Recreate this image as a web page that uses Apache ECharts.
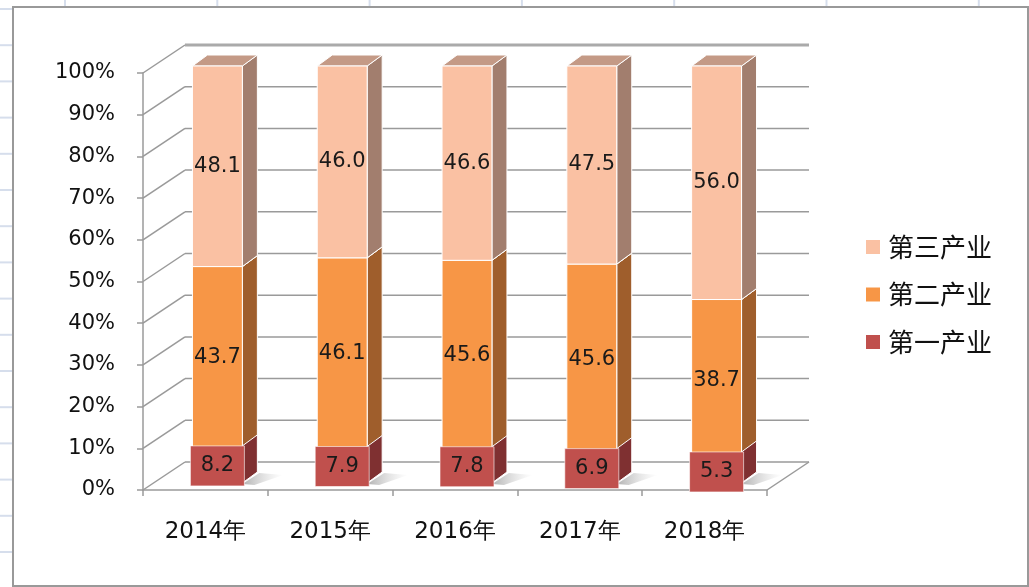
<!DOCTYPE html>
<html>
<head>
<meta charset="utf-8">
<style>
  html, body { margin: 0; padding: 0; background: #fff; }
  #chart { width: 1029px; height: 587px; }
</style>
<script src="https://cdn.jsdelivr.net/npm/echarts@6/dist/echarts.min.js"></script>
</head>
<body>
<div id="chart"></div>
<script>
// 数据
const years = ['2014年', '2015年', '2016年', '2017年', '2018年'];
const primary = [8.2, 7.9, 7.8, 6.9, 5.3];      // 第一产业
const secondary = [43.7, 46.1, 45.6, 45.6, 38.7]; // 第二产业
const tertiary = [48.1, 46.0, 46.6, 47.5, 56.0];  // 第三产业
const yTicks = [0, 10, 20, 30, 40, 50, 60, 70, 80, 90, 100];

// 3D 偏移
const DX = 42, DY = 28;   // 墙体深度
const BX = 12, BY = 7;    // 柱子相对前平面的位移
const BDX = 15, BDY = 11; // 柱子厚度
const GRID_COLOR = '#9a9a9a';
const LABEL_FONT = '21px "DejaVu Sans"';

function stackData(vals, bases) {
  return vals.map((v, i) => [i, bases ? bases[i] : 0, v]);
}
const base2 = primary.slice();
const base3 = primary.map((v, i) => v + secondary[i]);

// boxed: 第一产业的数据标签带红色底框（Excel 样式）
function barItem(front, side, top, boxed) {
  return function (params, api) {
    const i = api.value(0);
    const lo = api.value(1);
    const v = api.value(2);
    const c = api.coord([i, lo]);
    const t = api.coord([i, lo + v]);
    const w = api.size([1, 0])[0] * 0.4;
    const x0 = c[0] - w / 2 + BX, x1 = x0 + w;
    const yb = c[1] - BY, yt = t[1] - BY;
    const cx = (x0 + x1) / 2, cy = (yb + yt) / 2;
    const children = [];
    if (boxed) {
      const boxTop = Math.min(yt, cy - 20);
      children.push({ type: 'polygon',
        shape: { points: [[x1, yb + 1], [x1 + BDX + 2, yb - BDY + 1], [x1 + BDX + 26, yb - BDY + 3], [x1 + 12, yb + 2]] },
        style: { fill: new echarts.graphic.LinearGradient(0, 0, 1, 0, [
          { offset: 0, color: 'rgba(150,150,150,0.75)' }, { offset: 1, color: 'rgba(200,200,200,0)' }]) } });
      children.push({ type: 'polygon', shape: { points: [[x1, yb], [x1 + BDX, yb - BDY], [x1 + BDX, boxTop - BDY], [x1, boxTop]] },
        style: { fill: side, stroke: '#fff', lineWidth: 1 } });
      children.push({ type: 'rect', shape: { x: x0, y: yt, width: w, height: yb - yt },
        style: { fill: front } });
      children.push({ type: 'rect', shape: { x: cx - 27, y: cy - 20, width: 54, height: 40 },
        style: { fill: front, stroke: 'rgba(255,255,255,0.6)', lineWidth: 1 } });
    } else {
      children.push({ type: 'polygon', shape: { points: [[x1, yb], [x1 + BDX, yb - BDY], [x1 + BDX, yt - BDY], [x1, yt]] },
        style: { fill: side, stroke: '#fff', lineWidth: 1 } });
      children.push({ type: 'polygon', shape: { points: [[x0, yt], [x1, yt], [x1 + BDX, yt - BDY], [x0 + BDX, yt - BDY]] },
        style: { fill: top, stroke: '#fff', lineWidth: 1 } });
      children.push({ type: 'rect', shape: { x: x0, y: yt, width: w, height: yb - yt },
        style: { fill: front, stroke: '#fff', lineWidth: 1 } });
    }
    children.push({ type: 'text', style: { text: v.toFixed(1), x: cx, y: cy,
      align: 'center', verticalAlign: 'middle', font: LABEL_FONT, fill: '#1a1a1a' } });
    return { type: 'group', children: children };
  };
}

// 墙、地板、网格线
function frameItem(params, api) {
  const cs = params.coordSys;
  const left = cs.x, right = cs.x + cs.width;
  const children = [];
  yTicks.forEach(function (t) {
    const y = api.coord([0, t])[1];
    children.push({ type: 'line', shape: { x1: left, y1: y, x2: left + DX, y2: y - DY },
      style: { stroke: GRID_COLOR, lineWidth: 1.5 } });
    children.push({ type: 'line', shape: { x1: left + DX, y1: y - DY, x2: right + DX, y2: y - DY },
      style: { stroke: t === 100 ? '#aaa' : GRID_COLOR, lineWidth: t === 100 ? 3 : 1.5 } });
  });
  const yb = api.coord([0, 0])[1];
  children.push({ type: 'line', shape: { x1: right, y1: yb, x2: right + DX, y2: yb - DY },
    style: { stroke: GRID_COLOR, lineWidth: 1.5 } });
  return { type: 'group', children: children };
}

// Excel 单元格网格（背景）
const bgLines = [];
for (let x = 65; x < 1029; x += 152.3) {
  bgLines.push({ type: 'line', shape: { x1: x, y1: 0, x2: x, y2: 6 }, style: { stroke: '#d6deec', lineWidth: 2 } });
}
for (let y = 9; y < 587; y += 36.2) {
  bgLines.push({ type: 'line', shape: { x1: 0, y1: y, x2: 12, y2: y }, style: { stroke: '#d6deec', lineWidth: 2 } });
}

const chart = echarts.init(document.getElementById('chart'));
chart.setOption({
  animation: false,
  backgroundColor: '#fff',
  graphic: bgLines.concat([
    { type: 'rect', shape: { x: 13, y: 7, width: 1015, height: 579 },
      style: { fill: 'none', stroke: '#999', lineWidth: 2 }, z: 100 }
  ]),
  legend: {
    orient: 'vertical',
    left: 866,
    top: 234,
    padding: 0,
    itemWidth: 14,
    itemHeight: 14,
    itemGap: 21.5,
    icon: 'rect',
    data: ['第三产业', '第二产业', '第一产业'],
    textStyle: { fontSize: 26, fontFamily: '"Noto Sans CJK SC"', color: '#111', padding: [0, 0, 0, 3] }
  },
  grid: { left: 143, right: 262, top: 73, bottom: 97 },
  xAxis: {
    type: 'category',
    data: years,
    axisLine: { lineStyle: { color: GRID_COLOR, width: 1.5 } },
    axisTick: { show: true, length: 6, lineStyle: { color: GRID_COLOR, width: 1.5 } },
    axisLabel: { margin: 31, fontSize: 23, fontFamily: '"DejaVu Sans"', color: '#111' },
    splitLine: { show: false }
  },
  yAxis: {
    type: 'value',
    min: 0,
    max: 100,
    interval: 10,
    axisLine: { show: true, lineStyle: { color: GRID_COLOR, width: 1.5 } },
    axisTick: { show: true, length: 6, lineStyle: { color: GRID_COLOR, width: 1.5 } },
    axisLabel: { formatter: '{value}%', margin: 28, fontSize: 21, fontFamily: '"DejaVu Sans"', color: '#111' },
    splitLine: { show: false }
  },
  series: [
    { type: 'custom', name: 'frame', silent: true, renderItem: frameItem, data: [[0, 0, 0]], z: 1 },
    { type: 'custom', name: '第一产业', renderItem: barItem('#c0504d', '#7f3031', '#9c3e3c', true),
      itemStyle: { color: '#c0504d' }, data: stackData(primary), z: 3 },
    { type: 'custom', name: '第二产业', renderItem: barItem('#f79646', '#9f5e2c', '#c57838', false),
      itemStyle: { color: '#f79646' }, data: stackData(secondary, base2), z: 2 },
    { type: 'custom', name: '第三产业', renderItem: barItem('#fac1a3', '#a27e6e', '#c49a86', false),
      itemStyle: { color: '#fac1a3' }, data: stackData(tertiary, base3), z: 2 }
  ]
});
</script>
</body>
</html>
